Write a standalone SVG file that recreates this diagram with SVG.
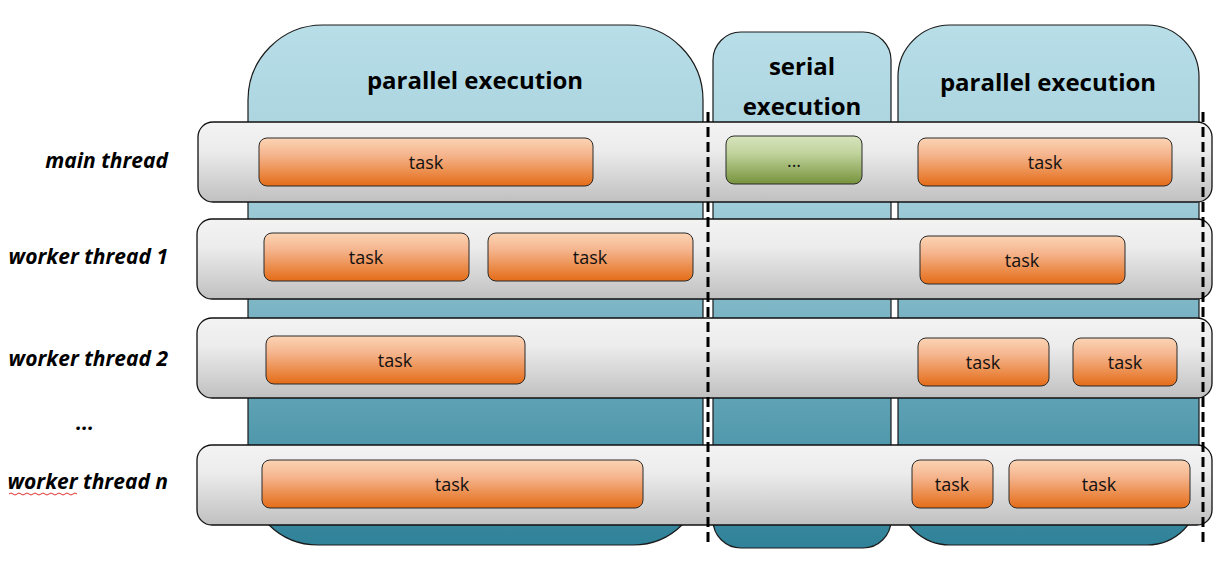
<svg xmlns="http://www.w3.org/2000/svg" width="1220" height="580" viewBox="0 0 1220 580">
<defs>
<linearGradient id="gPanel" x1="0" y1="0" x2="0" y2="1">
<stop offset="0" stop-color="#b8dee8"/><stop offset="0.3" stop-color="#a5d0dc"/><stop offset="1" stop-color="#2f8299"/>
</linearGradient>
<linearGradient id="gBar" x1="0" y1="0" x2="0" y2="1">
<stop offset="0" stop-color="#f3f3f3"/><stop offset="0.35" stop-color="#ececec"/><stop offset="1" stop-color="#c0c0c0"/>
</linearGradient>
<linearGradient id="gTask" x1="0" y1="0" x2="0" y2="1">
<stop offset="0" stop-color="#fbd4b4"/><stop offset="0.35" stop-color="#f5b58e"/><stop offset="1" stop-color="#e46c17"/>
</linearGradient>
<linearGradient id="gGreen" x1="0" y1="0" x2="0" y2="1">
<stop offset="0" stop-color="#d7e4bd"/><stop offset="0.35" stop-color="#c1d49e"/><stop offset="1" stop-color="#77933c"/>
</linearGradient>
</defs>
<style>
.panel{fill:url(#gPanel);stroke:#1a1a1a;stroke-width:1.2}
.bar{fill:url(#gBar);stroke:#111;stroke-width:1.3}
.task{fill:url(#gTask);stroke:#2a2a2a;stroke-width:1}
.green{fill:url(#gGreen);stroke:#2a2a2a;stroke-width:1}
.title{font-family:"Open Sans","Liberation Sans",sans-serif;font-weight:bold;font-size:24px;fill:#000;text-anchor:middle}
.tt{font-family:"Open Sans","Liberation Sans",sans-serif;font-size:18px;fill:#111;text-anchor:middle;dominant-baseline:central}
.lbl{font-family:"Open Sans","Liberation Sans",sans-serif;font-weight:bold;font-style:italic;font-size:21px;fill:#000;text-anchor:end}
.dash{stroke:#000;stroke-width:3;stroke-dasharray:10 5;fill:none}
</style>

<g id="phase-parallel-1">
<path class="panel" d="M248,475 L248,100 A75,75 0 0 1 323,25 L628,25 A75,75 0 0 1 703,100 L703,475 A70,70 0 0 1 633,545 L318,545 A70,70 0 0 1 248,475 Z"/>
<text class="title" x="475" y="89">parallel execution</text>
</g>
<g id="phase-serial">
<path class="panel" d="M713,60 A28,28 0 0 1 741,32 L863,32 A28,28 0 0 1 891,60 L891,520 A28,28 0 0 1 863,548 L741,548 A28,28 0 0 1 713,520 Z"/>
<text class="title" x="802" y="75">serial</text>
<text class="title" x="802" y="115">execution</text>
</g>
<g id="phase-parallel-2">
<path class="panel" d="M898,78 A52,52 0 0 1 950,25 L1147,25 A52,52 0 0 1 1199,78 L1199,493 A52,52 0 0 1 1147,545 L950,545 A52,52 0 0 1 898,493 Z"/>
<text class="title" x="1048" y="91">parallel execution</text>
</g>

<g id="row-main">
<rect class="bar" x="198" y="122" width="1014" height="80" rx="15"/>
<text class="lbl" x="168" y="168">main thread</text>
<rect class="task" x="259" y="138" width="334" height="48" rx="8"/><text class="tt" x="426" y="162">task</text>
<rect class="green" x="726" y="136" width="136" height="48" rx="8"/><text class="tt" x="794" y="160">...</text>
<rect class="task" x="918" y="138" width="254" height="48" rx="8"/><text class="tt" x="1045" y="162">task</text>
</g>
<g id="row-worker-1">
<rect class="bar" x="197" y="219" width="1015" height="80" rx="15"/>
<text class="lbl" x="168" y="264">worker thread 1</text>
<rect class="task" x="264" y="233" width="205" height="48" rx="8"/><text class="tt" x="366" y="257">task</text>
<rect class="task" x="488" y="233" width="205" height="48" rx="8"/><text class="tt" x="590" y="257">task</text>
<rect class="task" x="920" y="236" width="205" height="48" rx="8"/><text class="tt" x="1022" y="260">task</text>
</g>
<g id="row-worker-2">
<rect class="bar" x="197" y="318" width="1015" height="80" rx="15"/>
<text class="lbl" x="168" y="366">worker thread 2</text>
<rect class="task" x="266" y="336" width="259" height="48" rx="8"/><text class="tt" x="395" y="360">task</text>
<rect class="task" x="918" y="338" width="131" height="48" rx="8"/><text class="tt" x="983" y="362">task</text>
<rect class="task" x="1073" y="338" width="104" height="48" rx="8"/><text class="tt" x="1125" y="362">task</text>
</g>
<g id="row-ellipsis">
<text class="lbl" x="85" y="430" style="text-anchor:middle">...</text>
</g>
<g id="row-worker-n">
<rect class="bar" x="197" y="445" width="1015" height="80" rx="15"/>
<text class="lbl" x="168" y="489">worker thread n</text>
<path d="M9,494 q2,-2 4,0 t4,0 t4,0 t4,0 t4,0 t4,0 t4,0 t4,0 t4,0 t4,0 t4,0 t4,0 t4,0 t4,0 t4,0 t4,0 t4,0" fill="none" stroke="#e03030" stroke-width="1"/>
<rect class="task" x="262" y="460" width="381" height="48" rx="8"/><text class="tt" x="452" y="484">task</text>
<rect class="task" x="912" y="460" width="81" height="48" rx="8"/><text class="tt" x="952" y="484">task</text>
<rect class="task" x="1009" y="460" width="181" height="48" rx="8"/><text class="tt" x="1099" y="484">task</text>
</g>

<g id="connectors">
<line class="dash" x1="708" y1="112" x2="708" y2="545"/>
<line class="dash" x1="1203" y1="112" x2="1203" y2="545"/>
</g>
</svg>
